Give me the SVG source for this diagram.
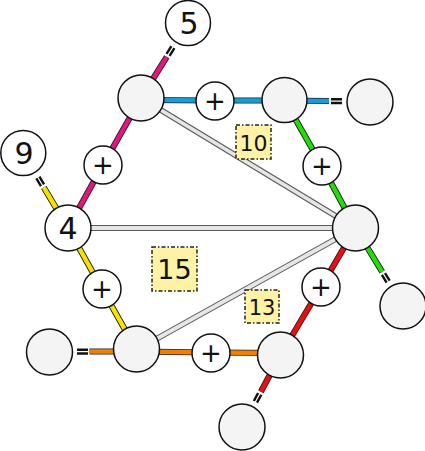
<svg xmlns="http://www.w3.org/2000/svg" width="425" height="451" viewBox="0 0 425 451">
<style>
.bg{fill:#ffffff}
.go{fill:none;stroke:#5a5a5a;stroke-width:6}
.gi{fill:none;stroke:#e6e6e6;stroke-width:3.8}
.co{fill:none;stroke:#222;stroke-width:6.2;stroke-linejoin:round}
.eq{stroke:#111;stroke-width:2.4}
.n{fill:#f4f4f4;stroke:#111;stroke-width:1.5}
.w{fill:#ffffff;stroke:#111;stroke-width:1.5}
.t{font-family:"DejaVu Sans","Liberation Sans",sans-serif;fill:#111;text-anchor:middle}
.lb{fill:#fdf2a6;stroke:#222;stroke-width:1.5;stroke-dasharray:4 2 1.5 2}
</style>
<defs>
<path id="pm" d="M166.75,56.9 L141,98 L103,165 L68,228"/>
<path id="pb" d="M141,100 L215,100.5 L284.5,100.5 L329,101"/>
<path id="pg" d="M284.5,100 L322,166 L355.5,228 L382.2,271.8"/>
<path id="py" d="M43.78,187.37 L68,228 L102,289 L136.5,350"/>
<path id="po" d="M89.5,351.5 L136.5,351.5 L211,352.5 L280.5,353"/>
<path id="pr" d="M355.5,228 L321,287 L280.5,355 L260.86,391.69"/>
</defs>
<rect class="bg" x="0" y="0" width="425" height="451"/>
<g id="connectors">
<path class="go" d="M141,98 L355.5,228 M68,228 L355.5,228 M136.5,350 L355.5,228"/>
<path class="gi" d="M141,98 L355.5,228 M68,228 L355.5,228 M136.5,350 L355.5,228"/>
<use href="#pm" class="co"/><use href="#pm" fill="none" stroke="#e5167e" stroke-width="4.4" stroke-linejoin="round"/>
<use href="#pb" class="co"/><use href="#pb" fill="none" stroke="#1b9ad8" stroke-width="4.4" stroke-linejoin="round"/>
<use href="#pg" class="co"/><use href="#pg" fill="none" stroke="#22dd0a" stroke-width="4.4" stroke-linejoin="round"/>
<use href="#py" class="co"/><use href="#py" fill="none" stroke="#f6e100" stroke-width="4.4" stroke-linejoin="round"/>
<use href="#po" class="co"/><use href="#po" fill="none" stroke="#f27f00" stroke-width="4.4" stroke-linejoin="round"/>
<use href="#pr" class="co"/><use href="#pr" fill="none" stroke="#f00c0c" stroke-width="4.4" stroke-linejoin="round"/>
<g id="eq-marks">
<path class="eq" d="M169.6,55.77 L174.38,48.15 M166.56,53.85 L171.34,46.23"/>
<path class="eq" d="M331,99.3 L342,99.3 M331,103 L342,103"/>
<path class="eq" d="M385.0,273.02 L389.68,280.7 M381.92,274.9 L386.6,282.58"/>
<path class="eq" d="M44.05,184.31 L39.45,176.57 M40.95,186.15 L36.35,178.41"/>
<path class="eq" d="M77,349.8 L88,349.8 M77,353.5 L88,353.5"/>
<path class="eq" d="M261.27,394.75 L257.03,402.69 M258.09,393.05 L253.85,400.99"/>
</g>
</g>
<g id="label-10"><rect class="lb" x="236" y="125" width="35" height="34"/><text class="t" x="253.5" y="151" font-size="22">10</text></g>
<g id="label-15"><rect class="lb" x="152" y="247" width="45" height="44"/><text class="t" x="174.5" y="279" font-size="27">15</text></g>
<g id="label-13"><rect class="lb" x="245" y="290" width="34" height="33"/><text class="t" x="262" y="315" font-size="21">13</text></g>
<g id="node-5"><circle class="w" cx="188" cy="23" r="22.5"/><text class="t" x="189" y="33.5" font-size="30">5</text></g>
<g id="node-a"><circle class="n" cx="141" cy="98" r="23"/></g>
<g id="plus-ab"><circle class="w" cx="215" cy="101" r="19"/><text class="t" x="215" y="110" font-size="26">+</text></g>
<g id="node-b"><circle class="n" cx="284.5" cy="100" r="22.5"/></g>
<g id="node-b-end"><circle class="n" cx="370" cy="102" r="23"/></g>
<g id="plus-bc"><circle class="w" cx="322" cy="166" r="19"/><text class="t" x="322" y="175" font-size="26">+</text></g>
<g id="node-c"><circle class="n" cx="355.5" cy="228" r="23"/></g>
<g id="node-c-end"><circle class="n" cx="403" cy="306" r="23"/></g>
<g id="plus-ce"><circle class="w" cx="321" cy="287" r="19"/><text class="t" x="321" y="296" font-size="26">+</text></g>
<g id="node-9"><circle class="w" cx="23.3" cy="153" r="22.5"/><text class="t" x="24" y="163.5" font-size="30">9</text></g>
<g id="plus-a4"><circle class="w" cx="103" cy="165" r="19"/><text class="t" x="103" y="174" font-size="26">+</text></g>
<g id="node-4"><circle class="w" cx="68" cy="228" r="23"/><text class="t" x="68" y="238.5" font-size="30">4</text></g>
<g id="plus-4d"><circle class="w" cx="102" cy="289" r="19"/><text class="t" x="102" y="298" font-size="26">+</text></g>
<g id="node-d-end"><circle class="n" cx="49.5" cy="352" r="23"/></g>
<g id="node-d"><circle class="n" cx="136.5" cy="349" r="23"/></g>
<g id="plus-de"><circle class="w" cx="211" cy="353" r="19"/><text class="t" x="211" y="362" font-size="26">+</text></g>
<g id="node-e"><circle class="n" cx="280.5" cy="355" r="23"/></g>
<g id="node-e-end"><circle class="n" cx="242" cy="427" r="23"/></g>
</svg>
